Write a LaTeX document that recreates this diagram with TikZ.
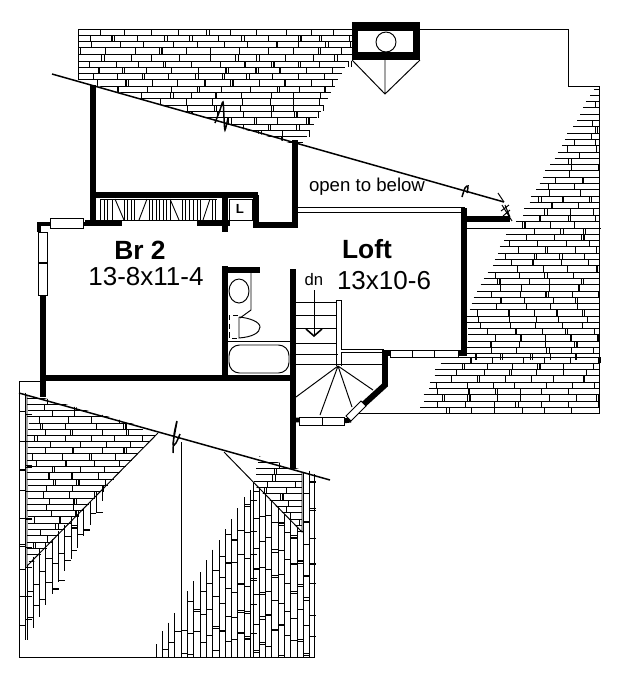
\documentclass[tikz,border=0pt]{standalone}
\usepackage{fontspec}
\setmainfont{Liberation Sans}
\usepackage{tikz}
\usetikzlibrary{positioning}
\tikzset{wall/.style={line width=3.4pt,line cap=butt,line join=miter},
	thinline/.style={line width=0.55pt},
	roofline/.style={line width=0.85pt},
	brickline/.style={line width=0.52pt},
	bricktick/.style={line width=0.65pt},
	windowbox/.style={draw,fill=white,line width=0.55pt},
	swapaxes/.style={x={(0cm,-0.02cm)},y={(0.02cm,0cm)}},
	bigtext/.style={font=\fontsize{14.8}{16}\selectfont,inner sep=0pt},
	boldtext/.style={font=\fontsize{15}{16}\selectfont\bfseries,inner sep=0pt},
}
% one patch of brick courses: first along, last along, then start and end of the course at both limits
\newcommand{\brickpatch}[6]{%
	\pgfmathtruncatemacro{\nrows}{(#2-#1)/6.3}
	\foreach \k in {0,...,\nrows}{
		\pgfmathsetmacro{\yy}{#1+\k*6.3}
		\pgfmathsetmacro{\yn}{\yy+6.3}
		\pgfmathsetmacro{\part}{(\yy-#1)/(#2-#1)}
		\pgfmathsetmacro{\xa}{#3+(#4-#3)*\part-rnd*4}
		\pgfmathsetmacro{\xb}{#5+(#6-#5)*\part}
		\draw[brickline] (\xa,\yy) -- (\xb,\yy);
		\pgfmathsetmacro{\xc}{\xa+4+rnd*20}
		\foreach \j in {0,...,13}{
			\pgfmathsetmacro{\xt}{\xc+\j*26+rnd*7}
			\pgfmathsetmacro{\dbl}{rnd}
			\ifdim\xt pt<\xb pt
				\draw[bricktick] (\xt,\yy) -- (\xt,\yn);
				\ifdim\dbl pt<0.22pt \draw[bricktick] (\xt+2.4,\yy) -- (\xt+2.4,\yn); \fi
			\fi
		}
	}
}
\begin{document}
\begin{tikzpicture}[x=0.02cm,y=-0.02cm]
	\useasboundingbox (0,0) rectangle (625,691);
	\pgfmathsetseed{11}
	%% bricks, upper part
	\begin{scope}
		\clip (78,29) -- (352,29) -- (352,160) -- (300,146) -- (78,80) -- cycle;
		\brickpatch{29}{60}{78}{78}{352}{352}
		\brickpatch{61}{145}{78}{78}{349}{302}
	\end{scope}
	\draw[thinline] (78,29) -- (78,80);
	\begin{scope}
		\brickpatch{89}{222}{597}{519}{599}{599}
		\brickpatch{228}{313}{513}{469}{599}{599}
		\brickpatch{316}{354}{469}{469}{599}{599}
		\brickpatch{357}{413}{445}{419}{599}{599}
	\end{scope}
	%% bricks, lower part
	\begin{scope}
		\clip (27,393) -- (165,433) -- (30,566) -- (27,566) -- cycle;
		\brickpatch{398}{432}{29}{29}{143}{143}
		\brickpatch{435}{566}{29}{29}{156}{30}
	\end{scope}
	\begin{scope}
		\clip (255,455) -- (302,470) -- (302,532) -- (245,476) -- cycle;
		\brickpatch{456}{532}{262}{245}{302}{302}
	\end{scope}
	\begin{scope}[swapaxes]
		\brickpatch{19}{26}{393}{393}{640}{640}
		\brickpatch{27}{105}{565}{487}{640}{497}
		\brickpatch{156}{252}{645}{488}{657}{657}
		\brickpatch{253}{301}{484}{532}{657}{657}
		\brickpatch{303}{314}{473}{473}{657}{657}
	\end{scope}
	%% thin outlines
	\draw[thinline] (420,29) -- (568,29) -- (568,86) -- (599,86) -- (599,413) -- (357,413);
	\draw[thinline] (465,228) -- (601,228);
	\draw[thinline] (297,207) -- (465,207) (297,212) -- (465,212);
	\draw[thinline] (43,381) -- (19,381) -- (19,657) -- (314,657) -- (314,474);
	\draw[thinline] (181,442) -- (181,657);
	\draw[thinline] (27,395) -- (27,566) -- (158,433);
	\draw[thinline] (224,452) -- (302,532) -- (302,472);
	%% roof lines with their break marks
	\draw[roofline] (52,74) -- (504,202);
	\draw[roofline] (19,393) -- (330,480);
	\draw[roofline] plot[smooth] coordinates {(215,123) (220,110) (223,102) (224,118) (225,130) (228,118)};
	\draw[roofline] plot[smooth] coordinates {(462,197) (465,188) (468,186) (467,193)};
	\draw[roofline] plot[smooth] coordinates {(173,453) (174,435) (177,421) (173,444) (176,443) (180,434)};
	\draw[thinline] (498,193) -- (504,202) (502,205) -- (512,221) (505,205) -- (510,217) (501,211) -- (509,205) (503,216) -- (510,210);
	%% chimney
	\fill (352,22) rectangle (420,60);
	\fill[white] (358,31) rectangle (413,52);
	\draw[thinline] (386,42) circle (10);
	\draw[thinline] (352,60) -- (385,94) -- (420,60) (385,60) -- (385,94);
	%% walls
	\draw[wall,line width=3.9pt] (93,85) -- (93,222);
	\draw[wall] (91,195) -- (258,195);
	\draw[wall] (225,195) -- (225,232);
	\draw[wall] (256,195) -- (256,225) -- (295,225) -- (295,140);
	\draw[wall] (85,223) -- (122,223) (197,223) -- (230,223);
	\draw[wall] (43,295) -- (43,397);
	\draw[wall] (40,378) -- (296,378);
	\draw[wall] (225,266) -- (225,378);
	\draw[wall] (225,270) -- (260,270);
	\draw[wall] (293,269) -- (293,468);
	\draw[wall] (464,208) -- (464,356);
	\draw[wall] (464,219) -- (510,219);
	\draw[wall] (385,352) -- (385,385) -- (363,405);
	\draw[wall] (382,353) -- (391,353) (458,353) -- (466,353);
	\draw[wall,line width=2.4pt] (39,232) -- (39,224) -- (50,224);
	\draw[wall,line width=2.4pt] (83,224) -- (91,224);
	\draw[wall,line width=2.8pt] (295,420) -- (300,420) (343,421) -- (351,420);
	%% windows
	\foreach \xa/\xb in {50/83}{\draw[windowbox] (\xa,218) rectangle (\xb,228);}
	\foreach \ya/\yb in {232/262,263/295}{\draw[windowbox] (38,\ya) rectangle (47,\yb);}
	\foreach \xa/\xb in {390/412,412/434,434/458}{\draw[windowbox] (\xa,350) rectangle (\xb,357);}
	\foreach \xa/\xb in {299/322,322/344}{\draw[windowbox] (\xa,417) rectangle (\xb,425);}
	\draw[windowbox] (346,416) -- (361,401) -- (366,406) -- (351,421) -- cycle;
	%% closet
	\foreach \x in {100,104,107,112,124,127,131,134,149,152,156,159,163,166,170,182,185,189,193,197,200,212,215}{
		\draw[brickline] (\x,199) -- (\x,220);
	}
	\draw[thinline] (100,199) -- (217,199) (100,220) -- (217,220);
	\draw[brickline] (115,199) -- (124,220) (139,220) -- (147,199) (170,199) -- (179,220) (203,220) -- (210,199);
	\draw[thinline] (229,199) rectangle (252,220);
	%% bath
	\draw[thinline] (251,273) -- (251,310) -- (240,318);
	\draw[thinline] (239,291) ellipse (10 and 12);
	\draw[thinline,densely dashed] (238,315) -- (229,315) -- (229,338) -- (238,338);
	\draw[thinline] (239,317) -- (239,338) .. controls (252,337) and (260,333) .. (260,327) .. controls (260,322) and (250,318) .. (239,317);
	\draw[thinline] (228,341) -- (291,341);
	\draw[thinline,rounded corners=6] (229,345) rectangle (289,373);
	%% stairs
	\foreach \y in {302,315,328,343}{
		\draw[thinline] (296,\y) -- (336,\y);
	}
	\draw[thinline] (296,354) -- (338,354);
	\draw[thinline] (296,364) -- (383,364);
	\draw[thinline] (336,300) -- (341,300) -- (341,349) -- (384,349);
	\draw[thinline] (336,300) -- (336,366);
	\draw[thinline] (341,352) -- (384,352) (341,352) -- (341,366);
	\draw[thinline] (338,366) -- (296,397) (338,366) -- (320,415) (338,366) -- (352,407) (338,366) -- (373,390);
	%% labels
	\node[boldtext] (brtwo) at (140,250) {Br 2};
	\node[bigtext] (brsize) at (146,277) {13-8x11-4};
	\node[boldtext] (loft) at (367,249) {Loft};
	\node[bigtext] (loftsize) at (384,281) {13x10-6};
	\node[font=\fontsize{10.6}{12}\selectfont,inner sep=0pt] (open) at (367,187) {open to below};
	\node[font=\fontsize{9.5}{11}\selectfont,inner sep=0pt] (dnlabel) at (314,280) {dn};
	\node[font=\fontsize{7.5}{9}\selectfont\bfseries,inner sep=0pt] (closet) at (240,209) {L};
	\coordinate (dnend) at (314,336);
	\draw[thinline] (dnlabel) ++(0,10) -- (dnend);
	\draw[line width=0.9pt] (306,329) -- (dnend) -- (322,329);
\end{tikzpicture}
\end{document}
